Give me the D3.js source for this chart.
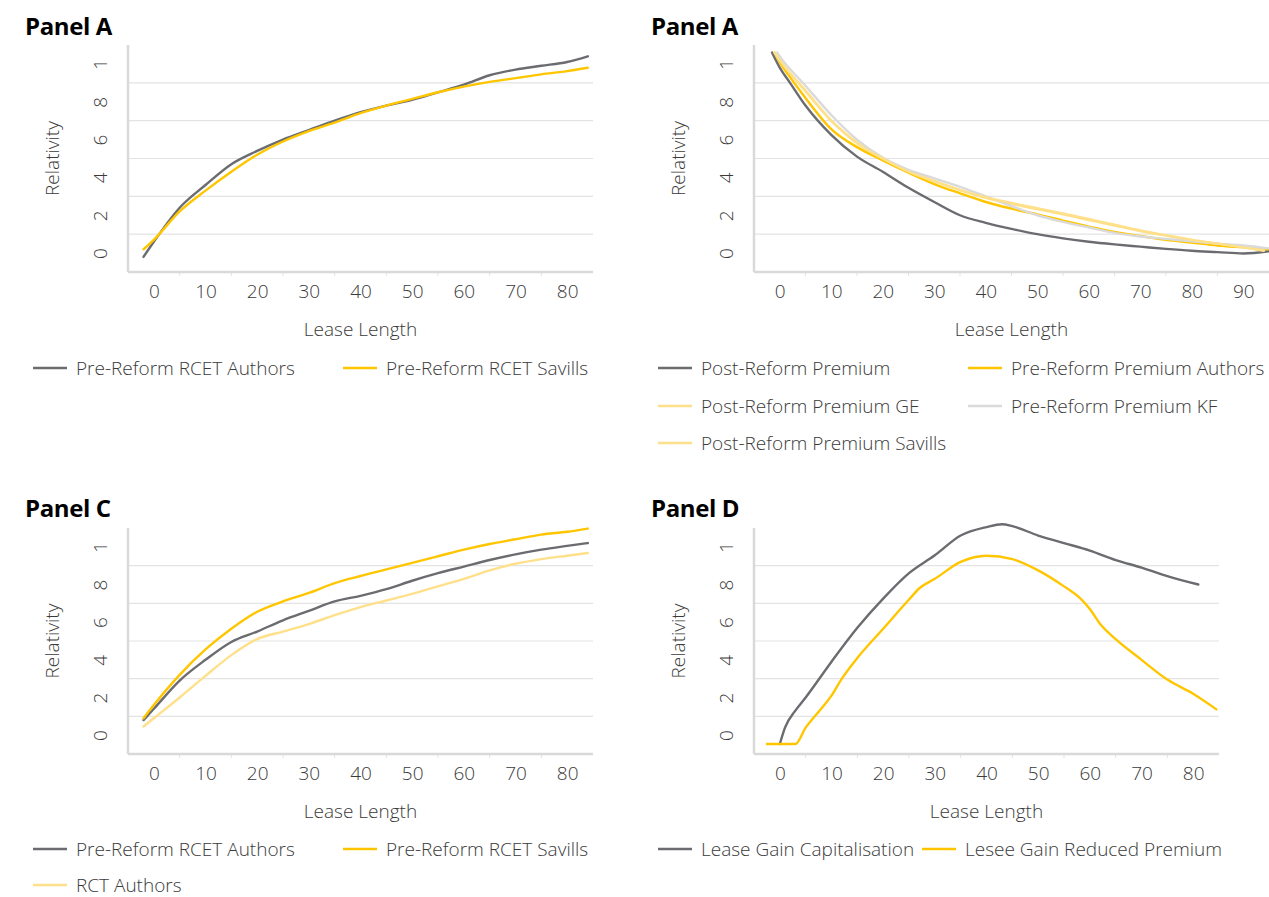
<!DOCTYPE html>
<html><head><meta charset="utf-8">
<script src="https://cdn.jsdelivr.net/npm/d3@7"></script>
<style>
body{margin:0;background:#fff;}
svg{display:block;font-family:"Open Sans",sans-serif;}
</style></head>
<body><svg id="c" width="1269" height="897"></svg>
<script>
// ---------- DATA ----------
const panelTitles = ["Panel A", "Panel A", "Panel C", "Panel D"];
const yTicks = [0, 0.2, 0.4, 0.6, 0.8, 1];
const yTickLabels = ["0", "2", "4", "6", "8", "1"];
const gridValues = [0.1, 0.3, 0.5, 0.7, 0.9];
const xTicks85 = [0, 10, 20, 30, 40, 50, 60, 70, 80];
const xTicks95 = [0, 10, 20, 30, 40, 50, 60, 70, 80, 90];
const xLabel = "Lease Length";
const yLabel = "Relativity";

// Panel A (left)
const leaseA = [-2, 0, 5, 10, 15, 20, 25, 30, 35, 40, 45, 50, 55, 60, 65, 70, 75, 80, 84];
const rcetAuthorsA = [-0.02, 0.06, 0.24, 0.36, 0.47, 0.54, 0.60, 0.65, 0.70, 0.745, 0.78, 0.81, 0.85, 0.89, 0.94, 0.97, 0.99, 1.01, 1.04];
const rcetSavillsA = [0.02, 0.07, 0.22, 0.33, 0.43, 0.52, 0.59, 0.645, 0.69, 0.74, 0.78, 0.815, 0.85, 0.88, 0.905, 0.925, 0.945, 0.962, 0.98];

// Panel A (right)
const leasePostPremium = [-1.5, 0, 2, 5, 10, 15, 20, 25, 30, 35, 40, 45, 50, 55, 60, 65, 70, 75, 80, 85, 90, 95];
const postPremium = [1.06, 0.98, 0.90, 0.78, 0.625, 0.51, 0.43, 0.345, 0.27, 0.20, 0.16, 0.128, 0.10, 0.078, 0.06, 0.046, 0.034, 0.022, 0.012, 0.005, -0.002, 0.01];
const leasePrePremiumAuthors = [-1, 0, 2, 5, 10, 15, 20, 25, 30, 35, 40, 45, 50, 55, 60, 65, 70, 75, 80, 85, 90, 95];
const prePremiumAuthors = [1.06, 1.01, 0.93, 0.82, 0.655, 0.56, 0.49, 0.425, 0.365, 0.316, 0.27, 0.235, 0.205, 0.172, 0.14, 0.112, 0.09, 0.07, 0.055, 0.04, 0.03, 0.02];
const leasePostPremiumGE = [-1, 0, 5, 10, 15, 20, 25, 30, 35, 40, 45, 50, 55, 60, 65, 70, 75, 80, 85, 90, 94];
const postPremiumGE = [1.06, 1.02, 0.86, 0.70, 0.585, 0.50, 0.435, 0.38, 0.333, 0.292, 0.26, 0.232, 0.205, 0.175, 0.145, 0.117, 0.092, 0.068, 0.05, 0.032, 0.015];
const leasePrePremiumKF = [-0.5, 0, 5, 10, 15, 20, 25, 30, 35, 40, 45, 50, 55, 60, 65, 70, 75, 80, 85, 90, 95];
const prePremiumKF = [1.06, 1.04, 0.885, 0.73, 0.60, 0.505, 0.44, 0.395, 0.35, 0.30, 0.248, 0.20, 0.165, 0.135, 0.107, 0.088, 0.075, 0.062, 0.05, 0.04, 0.025];
const leasePostPremiumSavills = [-1, 0, 5, 10, 15, 20, 25, 30, 35, 40, 45, 50, 55, 60, 65, 70, 75, 80, 85, 90, 94];
const postPremiumSavills = [1.06, 1.02, 0.855, 0.70, 0.58, 0.50, 0.43, 0.38, 0.333, 0.295, 0.265, 0.237, 0.21, 0.18, 0.15, 0.12, 0.095, 0.07, 0.05, 0.03, 0.012];

// Panel C
const leaseC = [-2, 0, 5, 10, 15, 20, 25, 30, 35, 40, 45, 50, 55, 60, 65, 70, 75, 80, 84];
const rcetAuthorsC = [0.08, 0.14, 0.29, 0.40, 0.495, 0.55, 0.61, 0.66, 0.71, 0.74, 0.775, 0.82, 0.86, 0.895, 0.93, 0.96, 0.985, 1.005, 1.02];
const rcetSavillsC = [0.09, 0.16, 0.32, 0.455, 0.565, 0.655, 0.71, 0.755, 0.807, 0.845, 0.88, 0.915, 0.95, 0.985, 1.015, 1.04, 1.065, 1.08, 1.097];
const rctAuthorsC = [0.046, 0.09, 0.20, 0.315, 0.425, 0.51, 0.55, 0.59, 0.637, 0.68, 0.715, 0.75, 0.79, 0.83, 0.875, 0.91, 0.935, 0.953, 0.967];

// Panel D
const leaseGainCap = [0, 1, 3, 5, 10, 15, 20, 25, 30, 35, 40, 43, 45, 50, 55, 60, 65, 70, 75, 81];
const gainCapitalisation = [-0.047, 0.04, 0.13, 0.20, 0.39, 0.57, 0.725, 0.86, 0.955, 1.06, 1.105, 1.12, 1.11, 1.06, 1.02, 0.98, 0.93, 0.89, 0.845, 0.80];
const leaseGainReduced = [-2.5, 3, 5, 8, 10, 12, 15, 20, 25, 27, 30, 35, 40, 45, 50, 55, 58, 60, 62, 65, 70, 75, 80, 84.5];
const gainReducedPremium = [-0.047, -0.047, 0.04, 0.14, 0.21, 0.30, 0.41, 0.565, 0.72, 0.78, 0.83, 0.92, 0.953, 0.935, 0.875, 0.79, 0.73, 0.67, 0.59, 0.51, 0.40, 0.295, 0.22, 0.137];

// ---------- STYLE / LAYOUT ----------
const C = {dark: "#6b6c70", yellow: "#ffc600", pale: "#ffe08a", lightgrey: "#dadada"};

const panels = [
  {title: panelTitles[0], tx: 25, ty: 35, box: [128, 45, 593, 272], xd: [-5, 85], xt: xTicks85,
   series: [
     {name: "Pre-Reform RCET Authors", xs: leaseA, ys: rcetAuthorsA, color: C.dark},
     {name: "Pre-Reform RCET Savills", xs: leaseA, ys: rcetSavillsA, color: C.yellow}],
   legend: [[33, 368], [343, 368]]},
  {title: panelTitles[1], tx: 651, ty: 35, box: [754, 45, 1269, 272], xd: [-5, 95], xt: xTicks95,
   series: [
     {name: "Post-Reform Premium", xs: leasePostPremium, ys: postPremium, color: C.dark},
     {name: "Pre-Reform Premium Authors", xs: leasePrePremiumAuthors, ys: prePremiumAuthors, color: C.yellow},
     {name: "Post-Reform Premium GE", xs: leasePostPremiumGE, ys: postPremiumGE, color: C.pale},
     {name: "Pre-Reform Premium KF", xs: leasePrePremiumKF, ys: prePremiumKF, color: C.lightgrey},
     {name: "Post-Reform Premium Savills", xs: leasePostPremiumSavills, ys: postPremiumSavills, color: C.pale}],
   legend: [[658, 368], [968, 368], [658, 406], [968, 406], [658, 443]]},
  {title: panelTitles[2], tx: 25, ty: 517, box: [128, 528, 593, 754], xd: [-5, 85], xt: xTicks85,
   series: [
     {name: "Pre-Reform RCET Authors", xs: leaseC, ys: rcetAuthorsC, color: C.dark},
     {name: "Pre-Reform RCET Savills", xs: leaseC, ys: rcetSavillsC, color: C.yellow},
     {name: "RCT Authors", xs: leaseC, ys: rctAuthorsC, color: C.pale}],
   legend: [[33, 849], [343, 849], [33, 885]]},
  {title: panelTitles[3], tx: 651, ty: 517, box: [754, 528, 1219, 754], xd: [-5, 85], xt: xTicks85,
   series: [
     {name: "Lease Gain Capitalisation", xs: leaseGainCap, ys: gainCapitalisation, color: C.dark},
     {name: "Lesee Gain Reduced Premium", xs: leaseGainReduced, ys: gainReducedPremium, color: C.yellow}],
   legend: [[658, 849], [922, 849]]}
];

const svg = d3.select("#c");
const textCol = "#3a3a3a";
const fs = 19;

panels.forEach(p => {
  const [x0, y0, x1, y1] = p.box;
  const x = d3.scaleLinear().domain(p.xd).range([x0, x1]);
  const y = d3.scaleLinear().domain([-0.1, 1.1]).range([y1, y0]);
  const g = svg.append("g");

  // title
  g.append("text").attr("x", p.tx).attr("y", p.ty).text(p.title)
    .attr("font-size", 24).attr("font-weight", 700).attr("fill", "#000").attr("letter-spacing", -0.4);

  // gridlines
  g.append("g").selectAll("line").data(gridValues).join("line")
    .attr("x1", x0).attr("x2", x1).attr("y1", d => y(d)).attr("y2", d => y(d))
    .attr("stroke", "#e3e3e3").attr("stroke-width", 1.2);

  // y axis
  const ya = g.append("g").attr("transform", `translate(${x0},0)`)
    .call(d3.axisLeft(y).tickValues(yTicks).tickSize(0).tickFormat((d, i) => yTickLabels[i]));
  ya.select(".domain").remove();
  ya.selectAll("text").attr("x", null).attr("dy", "0.35em")
    .attr("transform", "translate(-28,0) rotate(-90)")
    .attr("text-anchor", "middle").attr("font-size", fs).attr("font-family", "Open Sans").attr("font-weight", 300).attr("fill", textCol);

  // x axis
  const xa = g.append("g").attr("transform", `translate(0,${y1})`)
    .call(d3.axisBottom(x).tickValues(p.xt).tickSize(0).tickPadding(13));
  xa.select(".domain").remove();
  xa.selectAll("text").attr("font-size", fs).attr("font-family", "Open Sans").attr("font-weight", 300).attr("fill", textCol);
  // minor separators on x axis
  const sep = d3.range(p.xd[0] + 10, p.xd[1], 10);
  g.append("g").selectAll("line").data(sep).join("line")
    .attr("x1", d => x(d)).attr("x2", d => x(d)).attr("y1", y1).attr("y2", y1 + 4)
    .attr("stroke", "#e3e3e3").attr("stroke-width", 1);

  // axis lines
  g.append("line").attr("x1", x0).attr("x2", x1).attr("y1", y1).attr("y2", y1)
    .attr("stroke", "#d9d9d9").attr("stroke-width", 2.5);
  g.append("line").attr("x1", x0).attr("x2", x0).attr("y1", y0).attr("y2", y1)
    .attr("stroke", "#d9d9d9").attr("stroke-width", 2.5);

  // axis titles
  g.append("text").attr("x", (x0 + x1) / 2).attr("y", y1 + 64).attr("text-anchor", "middle")
    .attr("font-size", fs).attr("font-weight", 300).attr("fill", textCol).text(xLabel);
  g.append("text").attr("transform", `translate(${x0 - 76},${(y0 + y1) / 2}) rotate(-90)`)
    .attr("dy", "0.35em").attr("text-anchor", "middle")
    .attr("font-size", fs).attr("font-weight", 300).attr("fill", textCol).text(yLabel);

  // lines
  const line = d3.line().x(d => x(d[0])).y(d => y(d[1])).curve(d3.curveMonotoneX);
  p.series.forEach(s => {
    const pts = s.xs.map((v, i) => [v, s.ys[i]]);
    g.append("path").attr("d", line(pts)).attr("fill", "none")
      .attr("stroke", s.color).attr("stroke-width", 2.4).attr("stroke-linejoin", "round").attr("stroke-linecap", "round");
  });

  // legend
  p.series.forEach((s, i) => {
    const [lx, ly] = p.legend[i];
    g.append("line").attr("x1", lx).attr("x2", lx + 34).attr("y1", ly).attr("y2", ly)
      .attr("stroke", s.color).attr("stroke-width", 2.5);
    g.append("text").attr("x", lx + 43).attr("y", ly).attr("dy", "0.35em")
      .attr("font-size", fs).attr("font-weight", 300).attr("fill", textCol).text(s.name);
  });
});
</script>
</body></html>
